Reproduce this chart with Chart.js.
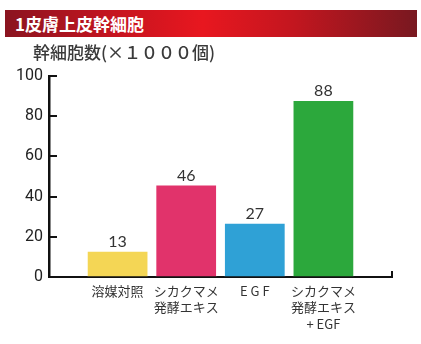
<!DOCTYPE html>
<html lang="ja">
<head>
<meta charset="utf-8">
<script src="https://cdn.jsdelivr.net/npm/chart.js@4"></script>
<style>
    html, body { margin: 0; padding: 0; background: #fff; }
    #wrap { position: relative; width: 421px; height: 344px; overflow: hidden; }
    #header {
        position: absolute; left: 5px; top: 10px; width: 412px; height: 27px;
        background: linear-gradient(90deg, #8a1420 0%, #c3141f 25%, #e8171f 48%, #c3161f 70%, #781820 100%);
        color: #fff; font: bold 17px "Noto Sans CJK JP", sans-serif;
        line-height: 27px; padding-left: 10px; box-sizing: border-box;
    }
    #unit {
        position: absolute; left: 33px; top: 41px;
        color: #3a3a3a; font: 500 17px "Noto Sans CJK JP", sans-serif; line-height: 22px;
    }
    #chart { position: absolute; left: 0; top: 0; }
</style>
</head>
<body>
<div id="wrap">
    <canvas id="chart" width="421" height="344"></canvas>
    <div id="header">1皮膚上皮幹細胞</div>
    <div id="unit">幹細胞数(×１０００個)</div>
</div>
<script>
// --- data ---
const categories = [
    ['溶媒対照'],
    ['シカクマメ', '発酵エキス'],
    ['E G F'],
    ['シカクマメ', '発酵エキス', '+ EGF']
];
const cellCounts = [13, 46, 27, 88];
const barColors = ['#f4d655', '#e1336b', '#2fa1d6', '#2ca83c'];
const yTicks = [0, 20, 40, 60, 80, 100];

// empty slot on each side so the bars sit away from the axis ends
const labels = [''].concat(categories, ['']);
const values = [null].concat(cellCounts, [null]);
const colors = ['#fff'].concat(barColors, ['#fff']);

// value above each bar + short inward ticks on the y axis
const decorations = {
    id: 'decorations',
    afterDatasetsDraw(chart) {
        const ctx = chart.ctx;
        const meta = chart.getDatasetMeta(0);
        ctx.save();
        ctx.fillStyle = '#333';
        ctx.font = '16px "Lato", sans-serif';
        ctx.textAlign = 'center';
        ctx.textBaseline = 'middle';
        meta.data.forEach((bar, i) => {
            if (values[i] == null) return;
            ctx.fillText(String(values[i]), bar.x, bar.y - 9);
        });
        ctx.restore();
    },
    afterDraw(chart) {
        const ctx = chart.ctx;
        const y = chart.scales.y;
        const area = chart.chartArea;
        ctx.save();
        ctx.strokeStyle = '#111';
        ctx.lineWidth = 2;
        yTicks.forEach(v => {
            if (v === 0) return;
            const py = Math.round(y.getPixelForValue(v));
            ctx.beginPath();
            ctx.moveTo(area.left, py);
            ctx.lineTo(area.left + 8, py);
            ctx.stroke();
        });
        // small upturned end on the x axis
        ctx.beginPath();
        ctx.moveTo(area.right, area.bottom + 1);
        ctx.lineTo(area.right, area.bottom - 6);
        ctx.stroke();
        ctx.restore();
    }
};

new Chart(document.getElementById('chart'), {
    type: 'bar',
    data: {
        labels: labels,
        datasets: [{
            data: values,
            backgroundColor: colors,
            borderColor: 'rgba(255,255,255,0.35)',
            borderWidth: 1,
            categoryPercentage: 1,
            barPercentage: 0.9
        }]
    },
    options: {
        responsive: false,
        animation: false,
        layout: { padding: { left: 0, top: 76, right: 29, bottom: 0 } },
        plugins: {
            legend: { display: false },
            tooltip: { enabled: false }
        },
        scales: {
            x: {
                offset: false,
                grid: { display: true, drawOnChartArea: false, drawTicks: false },
                border: { display: true, color: '#111', width: 2 },
                ticks: {
                    color: '#333',
                    font: { family: '"Noto Sans CJK JP", sans-serif', size: 13, lineHeight: 1.25 },
                    padding: 6,
                    maxRotation: 0,
                    autoSkip: false
                },
                afterFit(scale) { scale.height = 67; }
            },
            y: {
                min: 0,
                max: 100,
                afterBuildTicks(scale) { scale.ticks = yTicks.map(v => ({ value: v })); },
                grid: { display: true, drawOnChartArea: false, drawTicks: false },
                border: { display: true, color: '#111', width: 2.5 },
                ticks: {
                    color: '#222',
                    font: { family: '"Roboto", sans-serif', size: 16 },
                    padding: 6
                },
                afterFit(scale) { scale.width = 49; }
            }
        }
    },
    plugins: [decorations]
});
</script>
</body>
</html>
